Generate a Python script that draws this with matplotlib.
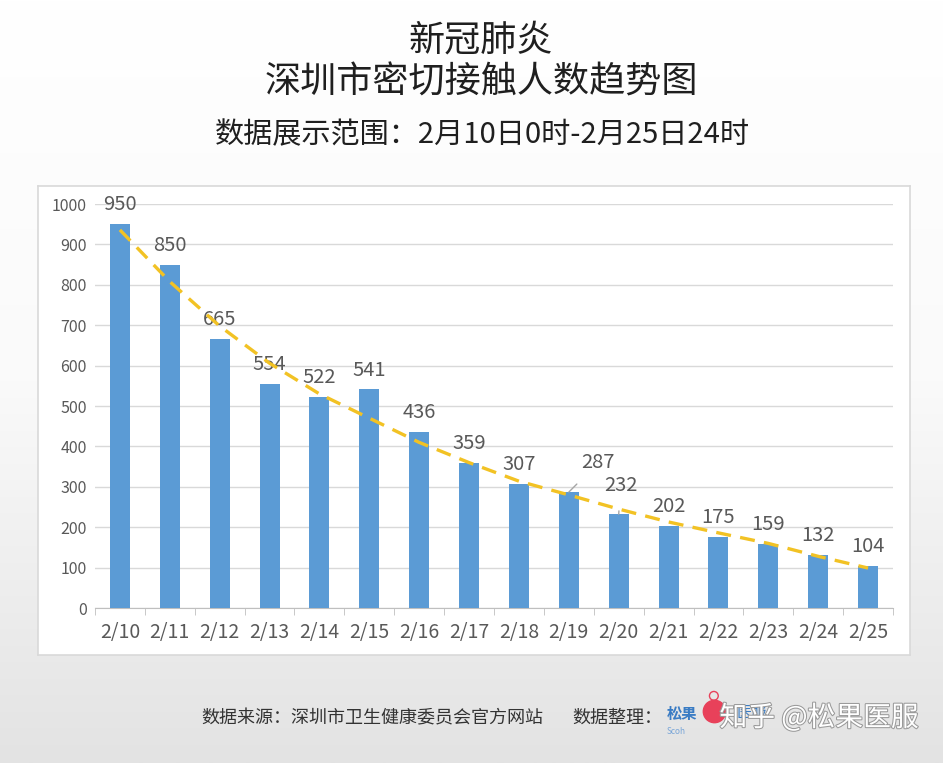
import numpy as np
import matplotlib
matplotlib.use("Agg")
import matplotlib.pyplot as plt
import matplotlib.patheffects as pe

plt.rcParams['font.family'] = ['Noto Sans CJK SC', 'DejaVu Sans']

dates = ['2/10', '2/11', '2/12', '2/13', '2/14', '2/15', '2/16', '2/17',
         '2/18', '2/19', '2/20', '2/21', '2/22', '2/23', '2/24', '2/25']
contacts = [950, 850, 665, 554, 522, 541, 436, 359, 307, 287, 232, 202, 175, 159, 132, 104]
# trendline values
trend = [936, 808, 698, 606, 530, 470, 410, 360, 314, 280, 245, 213, 186, 160, 128, 99]

title1 = '新冠肺炎'
title2 = '深圳市密切接触人数趋势图'
subtitle = '数据展示范围：2月10日0时-2月25日24时'
source = '数据来源：深圳市卫生健康委员会官方网站'
editor = '数据整理：'
watermark = '知乎 @松果医服'

fig = plt.figure(figsize=(9.43, 7.63), dpi=100)

# background gradient
bg = fig.add_axes([0, 0, 1, 1], zorder=-10)
grad = np.linspace(0, 1, 256).reshape(-1, 1)
bg.imshow(grad, aspect='auto', cmap=matplotlib.colors.LinearSegmentedColormap.from_list(
    'g', ['#ffffff', '#fafafa', '#e3e3e3']), extent=[0, 1, 0, 1])
bg.set_xlim(0, 1)
bg.set_ylim(0, 1)
bg.axis('off')
# little red logo icon
bg.scatter([0.757], [0.068], s=260, color='#e8415a', zorder=2)
bg.scatter([0.757], [0.088], s=40, facecolor='none', edgecolor='#e8415a', zorder=2)

# white chart panel
panel = fig.add_axes([0.0403, 0.1415, 0.9247, 0.6147], zorder=-5)
panel.set_xticks([])
panel.set_yticks([])
for s in panel.spines.values():
    s.set_color('#d9d9d9')
    s.set_linewidth(1.2)

ax = fig.add_axes([0.1007, 0.2031, 0.8463, 0.5295])
ax.set_facecolor('none')
x = np.arange(len(dates))
ax.bar(x, contacts, width=0.4, color='#5b9bd5', zorder=3)
ax.plot(x, trend, color='#f2c224', linewidth=2.4, dashes=(4.5, 2.8), zorder=4)

ax.set_xlim(-0.5, len(dates) - 0.5)
ax.set_ylim(0, 1000)
ax.set_yticks(range(0, 1001, 100))
ax.yaxis.grid(True, color='#d9d9d9', linewidth=1)
ax.set_axisbelow(True)
ax.tick_params(axis='y', length=0, labelsize=11.5, labelcolor='#595959', pad=6)
ax.set_xticks(x)
ax.set_xticklabels(dates)
ax.set_xticks(np.arange(-0.5, len(dates)), minor=True)
ax.tick_params(axis='x', which='major', length=0, labelsize=14, labelcolor='#595959', pad=10)
ax.tick_params(axis='x', which='minor', length=5, color='#bfbfbf')
for s in ['top', 'right', 'left']:
    ax.spines[s].set_visible(False)
ax.spines['bottom'].set_color('#bfbfbf')

lbl = dict(ha='center', va='center', fontsize=14.5, color='#595959', annotation_clip=False)
for i, v in enumerate(contacts):
    if dates[i] == '2/19':
        ax.annotate(str(v), (i, v), xytext=(21, 21), textcoords='offset points',
                    arrowprops=dict(arrowstyle='-', color='#a6a6a6', lw=1,
                                    shrinkA=8, shrinkB=0), **lbl)
    elif dates[i] == '2/20':
        ax.annotate(str(v), (i, v), xytext=(1.5, 21), textcoords='offset points',
                    arrowprops=dict(arrowstyle='-', color='#a6a6a6', lw=1,
                                    shrinkA=9, shrinkB=0), **lbl)
    else:
        ax.annotate(str(v), (i, v), xytext=(0, 14), textcoords='offset points', **lbl)

fig.text(0.510, 0.947, title1, ha='center', va='center', fontsize=26, color='#1f1f1f')
fig.text(0.510, 0.892, title2, ha='center', va='center', fontsize=26, color='#1f1f1f')
fig.text(0.512, 0.823, subtitle, ha='center', va='center', fontsize=21, color='#1f1f1f')

fig.text(0.214, 0.059, source, ha='left', va='center', fontsize=13, color='#333333')
fig.text(0.607, 0.059, editor, ha='left', va='center', fontsize=13, color='#333333')
fig.text(0.707, 0.064, '松果', ha='left', va='center', fontsize=11, color='#3a7cc4',
         fontweight='bold')
fig.text(0.707, 0.041, 'Scoh', ha='left', va='center', fontsize=6, color='#7aa6d8')
fig.text(0.781, 0.066, '医服', ha='left', va='center', fontsize=11, color='#3a7cc4')
fig.text(0.763, 0.059, watermark, ha='left', va='center', fontsize=20, color='white',
         path_effects=[pe.withStroke(linewidth=1.5, foreground='#9a9a9a')])

fig.savefig('out.png', dpi=100)
